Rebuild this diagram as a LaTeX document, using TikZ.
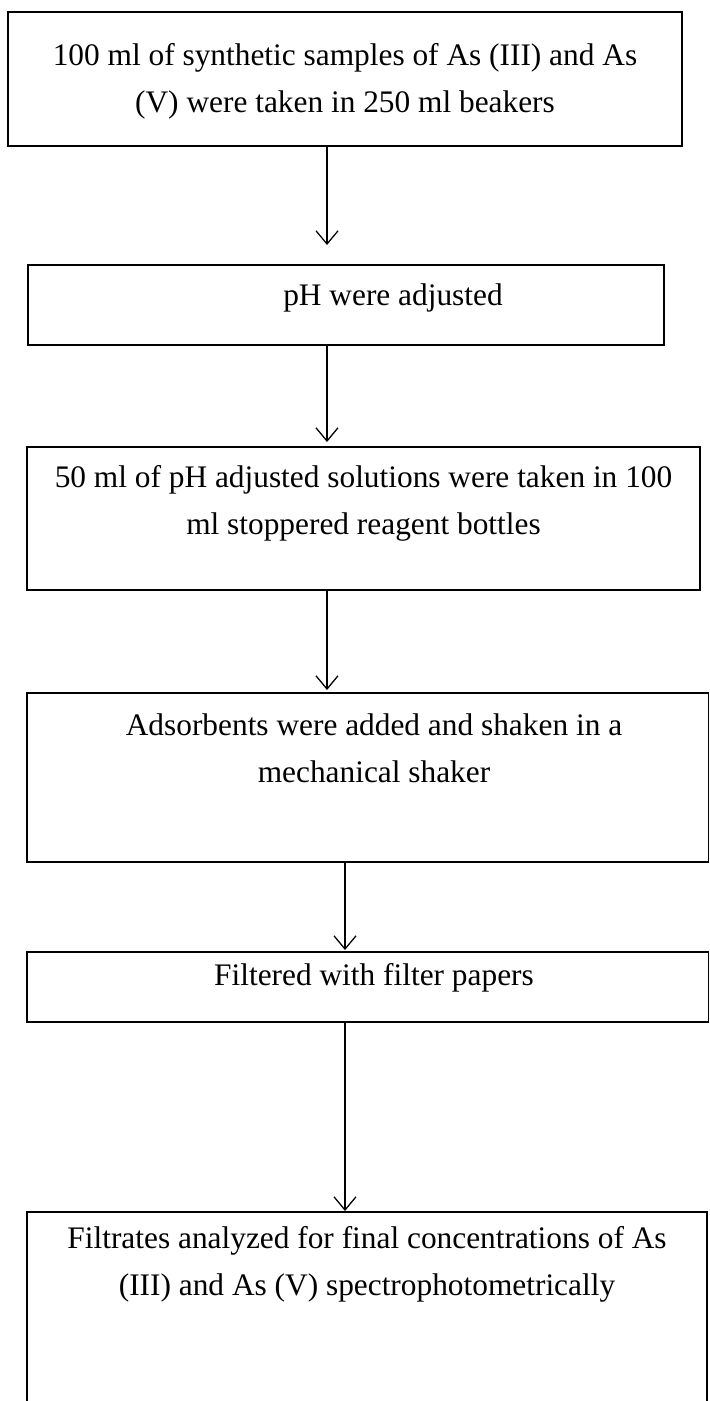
\documentclass[tikz,border=0pt]{standalone}
\usepackage{fontspec}
\setmainfont{Liberation Serif}
\usetikzlibrary{arrows.meta}

\begin{document}
\begin{tikzpicture}[
    x=0.025cm, y=-0.025cm,
    stepbox/.style={rectangle, draw, line width=0.9pt, inner sep=0pt},
    txt/.style={font=\fontsize{22.3}{33.4}\selectfont, align=center, inner sep=0pt, anchor=north},
    arrow/.style={-{Straight Barb[length=0.33cm, width=0.55cm]}, line width=0.9pt}
]
\clip (0,0) rectangle (710,1401);

% Passo 1
\node[stepbox, minimum width=16.85cm, minimum height=3.35cm] (box1) at (345,79) {};
\node[txt] (t1) at (345,43) {100 ml of synthetic samples of As (III) and As\\(V) were taken in 250 ml beakers};

% Passo 2
\node[stepbox, minimum width=15.9cm, minimum height=2cm] (box2) at (346,305) {};
\node[txt] (t2) at (393,283) {pH were adjusted};

% Passo 3
\node[stepbox, minimum width=16.825cm, minimum height=3.575cm] (box3) at (363.5,518.5) {};
\node[txt] (t3) at (363.5,465) {50 ml of pH adjusted solutions were taken in 100\\ml stoppered reagent bottles};

% Passo 4
\node[stepbox, minimum width=17.0375cm, minimum height=4.225cm] (box4) at (367.75,777.5) {};
\node[txt] (t4) at (374,713) {Adsorbents were added and shaken in a\\mechanical shaker};

% Passo 5
\node[stepbox, minimum width=17.0375cm, minimum height=1.75cm] (box5) at (367.75,987) {};
\node[txt] (t5) at (374,963) {Filtered with filter papers};

% Passo 6
\node[stepbox, minimum width=17cm, minimum height=5.675cm] (box6) at (367,1325.5) {};
\node[txt] (t6) at (367,1226) {Filtrates analyzed for final concentrations of As\\(III) and As (V) spectrophotometrically};

% Pontas das setas
\coordinate (tip1) at (327,245);
\coordinate (tip2) at (327,442);
\coordinate (tip3) at (327,690);
\coordinate (tip4) at (345,950);
\coordinate (tip5) at (345,1211);

% Setas entre passos
\draw[arrow] (tip1 |- box1.south) -- (tip1);
\draw[arrow] (tip2 |- box2.south) -- (tip2);
\draw[arrow] (tip3 |- box3.south) -- (tip3);
\draw[arrow] (tip4 |- box4.south) -- (tip4);
\draw[arrow] (tip5 |- box5.south) -- (tip5);

\end{tikzpicture}
\end{document}
